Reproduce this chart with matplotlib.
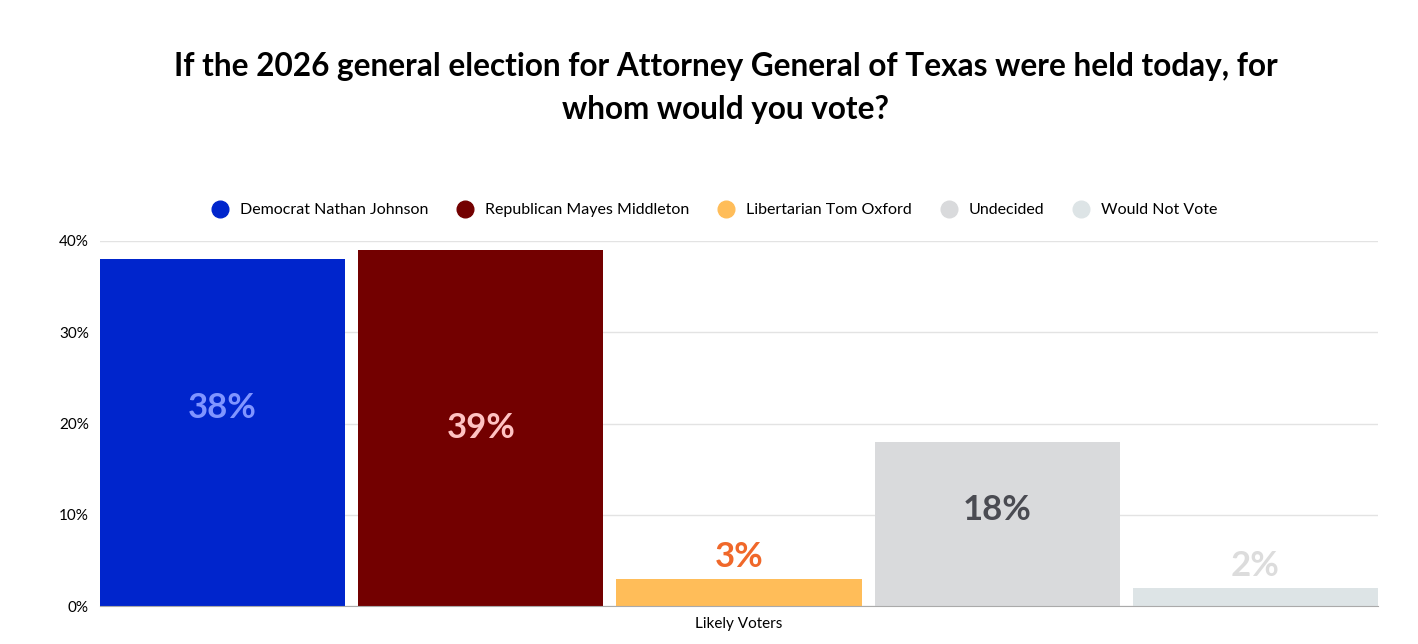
import matplotlib
matplotlib.use("Agg")
import matplotlib.pyplot as plt
from matplotlib.lines import Line2D
import numpy as np

categories = ["Democrat Nathan Johnson", "Republican Mayes Middleton",
              "Libertarian Tom Oxford", "Undecided", "Would Not Vote"]
values = [38, 39, 3, 18, 2]
group_label = "Likely Voters"
yticks = [0, 10, 20, 30, 40]

bar_colors = ["#0025CC", "#730000", "#FFBD59", "#D9DADC", "#DDE4E6"]
label_colors = ["#8095FF", "#FFC2C2", "#F0682A", "#4A4B52", "#DCDCDC"]

plt.rcParams['font.family'] = ['Lato', 'DejaVu Sans']

fig = plt.figure(figsize=(14.18, 6.44), dpi=100)
ax = fig.add_axes([100/1418, 1-606/644, 1278/1418, 365/644])

w = 245/258
x = np.arange(len(values))
ax.bar(x, values, width=w, color=bar_colors, zorder=2)

big_min = min(v for v in values if v >= 30)
for xi, v, c in zip(x, values, label_colors):
    if v >= 10:
        if v == big_min:
            y = v * 0.57
        elif v < 30:
            y = v / 2 + 1.5
        else:
            y = v / 2
    else:
        y = v + 2.4
    ax.text(xi, y, f"{v}%", ha="center", va="center", color=c,
            fontsize=25, fontweight="bold")

ax.set_xlim(-w/2, len(values)-1 + w/2)
ax.set_ylim(0, 40)
ax.set_yticks(yticks)
ax.set_yticklabels([f"{t}%" for t in yticks], fontsize=11)
ax.set_xticks([(len(values)-1)/2])
ax.set_xticklabels([group_label], fontsize=11)
ax.tick_params(axis="both", length=0, pad=8)
ax.grid(axis="y", color="#E3E3E3", linewidth=1, zorder=0)
for s in ["top", "right", "left"]:
    ax.spines[s].set_visible(False)
ax.spines["bottom"].set_color("#AAAAAA")
ax.spines["bottom"].set_zorder(3)

handles = [Line2D([0], [0], marker="o", linestyle="", markersize=12,
                  markerfacecolor=c, markeredgecolor=c) for c in bar_colors]
fig.legend(handles, categories, loc="center", bbox_to_anchor=(711/1418, 1-210/644),
           ncol=5, frameon=False, fontsize=11.5, handletextpad=0.25, columnspacing=1.3)

fig.text(726/1418, 1-88/644,
         "If the 2026 general election for Attorney General of Texas were held today, for\nwhom would you vote?",
         ha="center", va="center", fontsize=22.7, fontweight="bold", linespacing=1.55)

fig.savefig("out.png", dpi=100, facecolor="white")
